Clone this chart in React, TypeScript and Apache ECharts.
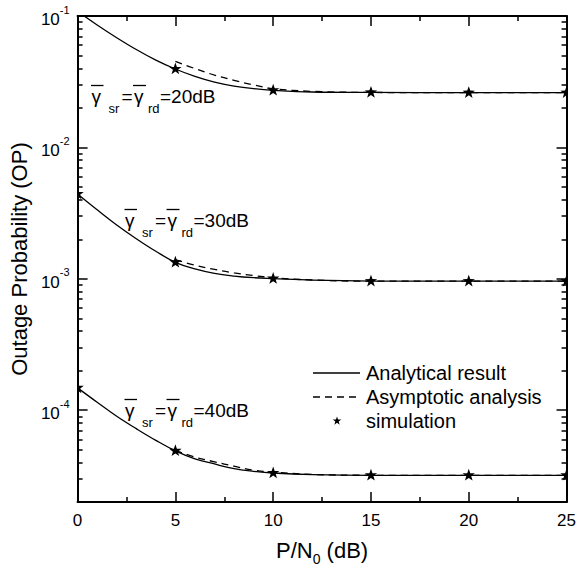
import React, { useEffect, useRef } from 'react';
import * as echarts from 'echarts';

const FONT = '"Liberation Sans", Arial, Helvetica, sans-serif';

// ---- data ----
const analyticX = [0, 1, 2, 3, 4, 5, 6, 7, 8, 9, 10, 12, 15, 20, 25];
const asymX = [5, 6, 7, 8, 9, 10, 12, 15, 20, 25];
const simX = [0, 5, 10, 15, 20, 25];

const analytic20 = [0.1085, 0.0855, 0.0684, 0.0556, 0.0462, 0.0395, 0.0347, 0.0314, 0.0293, 0.028, 0.0272, 0.0264, 0.0262, 0.0261, 0.0261];
const analytic30 = [0.00442, 0.00335, 0.00257, 0.00202, 0.00162, 0.001336, 0.00119, 0.0011, 0.00105, 0.00102, 0.001004, 0.000977, 0.000962, 0.00096, 0.00096];
const analytic40 = [1.48e-4, 1.15e-4, 9.0e-5, 7.24e-5, 5.9e-5, 4.91e-5, 4.27e-5, 3.9e-5, 3.59e-5, 3.43e-5, 3.33e-5, 3.24e-5, 3.2e-5, 3.2e-5, 3.2e-5];

const asym20 = [0.0451, 0.0398, 0.0355, 0.0324, 0.0299, 0.028, 0.0267, 0.0262, 0.0261, 0.0261];
const asym30 = [0.0014, 0.00127, 0.00118, 0.00111, 0.00106, 0.00102, 0.00098, 0.00096, 0.00096, 0.00096];
const asym40 = [4.95e-5, 4.4e-5, 4.05e-5, 3.75e-5, 3.5e-5, 3.38e-5, 3.25e-5, 3.2e-5, 3.2e-5, 3.2e-5];

const sim20 = [0.1085, 0.0395, 0.0272, 0.0262, 0.0261, 0.0261];
const sim30 = [0.00442, 0.001336, 0.001004, 0.00096, 0.00096, 0.00096];
const sim40 = [1.48e-4, 4.91e-5, 3.33e-5, 3.2e-5, 3.2e-5, 3.2e-5];

const yMajorExponents = [-4, -3, -2, -1];
const yMinValue = 2e-5;
const yMaxValue = 0.1;
const xTicks = [0, 5, 10, 15, 20, 25];

const legendNames = ['Analytical result', 'Asymptotic analysis', 'simulation'];
const snrLabels = ['20dB', '30dB', '40dB'];

// ---- helpers ----
const toLog = (xs: number[], vs: number[]) => xs.map((x, i) => [x, Math.log10(vs[i])]);

function starPoints(cx: number, cy: number, R: number, r: number) {
  const pts: number[][] = [];
  for (let i = 0; i < 10; i++) {
    const ang = -Math.PI / 2 + (i * Math.PI) / 5;
    const rad = i % 2 === 0 ? R : r;
    pts.push([cx + rad * Math.cos(ang), cy + rad * Math.sin(ang)]);
  }
  return pts;
}

function minorLogValues() {
  const out: number[] = [];
  for (let n = -5; n <= -2; n++) {
    for (let k = 2; k <= 9; k++) {
      const v = Math.log10(k * Math.pow(10, n));
      if (v >= Math.log10(yMinValue) && v <= Math.log10(yMaxValue)) out.push(v);
    }
  }
  return out;
}

function gammaLabel(x0: number, yc: number, snr: string) {
  const big = { fontSize: 19, fontFamily: FONT, fill: '#000', verticalAlign: 'middle', align: 'left' };
  const small = { fontSize: 13, fontFamily: FONT, fill: '#000', verticalAlign: 'middle', align: 'left' };
  return {
    type: 'group',
    x: x0,
    y: yc,
    children: [
      { type: 'text', x: 0, y: 0, style: { ...big, text: 'γ' } },
      { type: 'line', shape: { x1: -0.5, y1: -10.5, x2: 12, y2: -10.5 }, style: { stroke: '#000', lineWidth: 1.3 } },
      { type: 'text', x: 17, y: 12, style: { ...small, text: 'sr' } },
      { type: 'text', x: 30, y: 0, style: { ...big, text: '=' } },
      { type: 'text', x: 42.5, y: 0, style: { ...big, text: 'γ' } },
      { type: 'line', shape: { x1: 41.5, y1: -10.5, x2: 54.5, y2: -10.5 }, style: { stroke: '#000', lineWidth: 1.3 } },
      { type: 'text', x: 56.5, y: 12, style: { ...small, text: 'rd' } },
      { type: 'text', x: 68.5, y: 0, style: { ...big, text: '=' + snr } },
    ],
  };
}

export default function App() {
  const ref = useRef<HTMLDivElement>(null);

  useEffect(() => {
    document.body.style.margin = '0';
    if (!ref.current) return;
    const chart = echarts.init(ref.current, null, { renderer: 'svg' });

    const yMin = Math.log10(yMinValue);
    const yMax = Math.log10(yMaxValue);
    const minors = minorLogValues();

    const axisLineStyle = { color: '#000', width: 2 };
    const tickStyle = { color: '#000', width: 1.5 };

    const baseY = {
      type: 'value',
      min: yMin,
      max: yMax,
      splitLine: { show: false },
    };

    const lineCommon = {
      type: 'line',
      xAxisIndex: 0,
      yAxisIndex: 0,
      showSymbol: false,
      symbol: 'none',
      smooth: 0.4,
      clip: true,
      silent: true,
    };

    const simData = [
      ...toLog(simX, sim20),
      ...toLog(simX, sim30),
      ...toLog(simX, sim40),
    ];

    const legendY = [373, 397, 421];

    chart.setOption({
      animation: false,
      grid: { left: 77, top: 16, right: 8, bottom: 61, containLabel: false },
      xAxis: [
        {
          type: 'value',
          position: 'bottom',
          min: 0,
          max: 25,
          interval: 5,
          axisLine: { lineStyle: axisLineStyle },
          axisTick: { inside: true, length: 10, lineStyle: tickStyle, customValues: xTicks },
          minorTick: { show: true, splitNumber: 2, length: 5, lineStyle: tickStyle },
          axisLabel: {
            color: '#000',
            fontSize: 17,
            fontFamily: FONT,
            margin: 10,
            customValues: xTicks,
          },
          splitLine: { show: false },
          name: 'P/N{sub|0} (dB)',
          nameLocation: 'middle',
          nameGap: 26,
          nameTextStyle: {
            color: '#000',
            fontSize: 22,
            fontFamily: FONT,
            lineHeight: 32,
            rich: {
              sub: { fontSize: 14, fontFamily: FONT, color: '#000', lineHeight: 10, verticalAlign: 'bottom' },
            },
          },
        },
        {
          type: 'value',
          position: 'top',
          min: 0,
          max: 25,
          interval: 5,
          axisLine: { lineStyle: axisLineStyle },
          axisTick: { inside: true, length: 10, lineStyle: tickStyle },
          minorTick: { show: true, splitNumber: 2, length: 5, lineStyle: tickStyle },
          axisLabel: { show: false },
          splitLine: { show: false },
        },
      ],
      yAxis: [
        {
          ...baseY,
          position: 'left',
          axisLine: { show: true, lineStyle: axisLineStyle },
          axisTick: { show: true, inside: true, length: 10, lineStyle: tickStyle, customValues: yMajorExponents },
          axisLabel: {
            customValues: yMajorExponents,
            margin: 8,
            formatter: (v: number) => `{b|10}{s|${Math.round(v)}}`,
            rich: {
              b: { fontSize: 17, fontFamily: FONT, color: '#000', lineHeight: 24, verticalAlign: 'bottom' },
              s: { fontSize: 11, fontFamily: FONT, color: '#000', lineHeight: 14, verticalAlign: 'top' },
            },
          },
          name: 'Outage Probability (OP)',
          nameLocation: 'middle',
          nameGap: 44,
          nameTextStyle: { color: '#000', fontSize: 22, fontFamily: FONT },
        },
        {
          ...baseY,
          position: 'left',
          axisLine: { show: false },
          axisTick: { show: true, inside: true, length: 5, lineStyle: tickStyle, customValues: minors },
          axisLabel: { show: false },
        },
        {
          ...baseY,
          position: 'right',
          axisLine: { show: true, lineStyle: axisLineStyle },
          axisTick: { show: true, inside: true, length: 10, lineStyle: tickStyle, customValues: yMajorExponents },
          axisLabel: { show: false },
        },
        {
          ...baseY,
          position: 'right',
          axisLine: { show: false },
          axisTick: { show: true, inside: true, length: 5, lineStyle: tickStyle, customValues: minors },
          axisLabel: { show: false },
        },
      ],
      series: [
        ...[analytic20, analytic30, analytic40].map((v) => ({
          ...lineCommon,
          name: legendNames[0],
          data: toLog(analyticX, v),
          lineStyle: { color: '#000', width: 1.3 },
        })),
        ...[asym20, asym30, asym40].map((v) => ({
          ...lineCommon,
          name: legendNames[1],
          data: toLog(asymX, v),
          lineStyle: { color: '#000', width: 1.3, type: [7, 5] },
        })),
        {
          type: 'custom',
          name: legendNames[2],
          xAxisIndex: 0,
          yAxisIndex: 0,
          clip: true,
          silent: true,
          encode: { x: 0, y: 1 },
          data: simData,
          renderItem: (params: any, api: any) => {
            const p = api.coord([api.value(0), api.value(1)]);
            return {
              type: 'polygon',
              shape: { points: starPoints(p[0], p[1], 6.5, 2.6) },
              style: { fill: '#000' },
            };
          },
        },
      ],
      graphic: [
        gammaLabel(91.5, 96, snrLabels[0]),
        gammaLabel(125, 220, snrLabels[1]),
        gammaLabel(125, 410, snrLabels[2]),
        { type: 'line', shape: { x1: 313, y1: legendY[0], x2: 360, y2: legendY[0] }, style: { stroke: '#000', lineWidth: 1.3 } },
        { type: 'line', shape: { x1: 313, y1: legendY[1], x2: 360, y2: legendY[1] }, style: { stroke: '#000', lineWidth: 1.3, lineDash: [7, 5] } },
        { type: 'polygon', shape: { points: starPoints(337, legendY[2], 4.5, 1.8) }, style: { fill: '#000' } },
        ...legendNames.map((t, i) => ({
          type: 'text',
          x: 366,
          y: legendY[i],
          style: { text: t, fontSize: 20, fontFamily: FONT, fill: '#000', verticalAlign: 'middle', align: 'left' },
        })),
      ],
    });

    return () => chart.dispose();
  }, []);

  return <div ref={ref} style={{ width: 579, height: 571 }} />;
}
